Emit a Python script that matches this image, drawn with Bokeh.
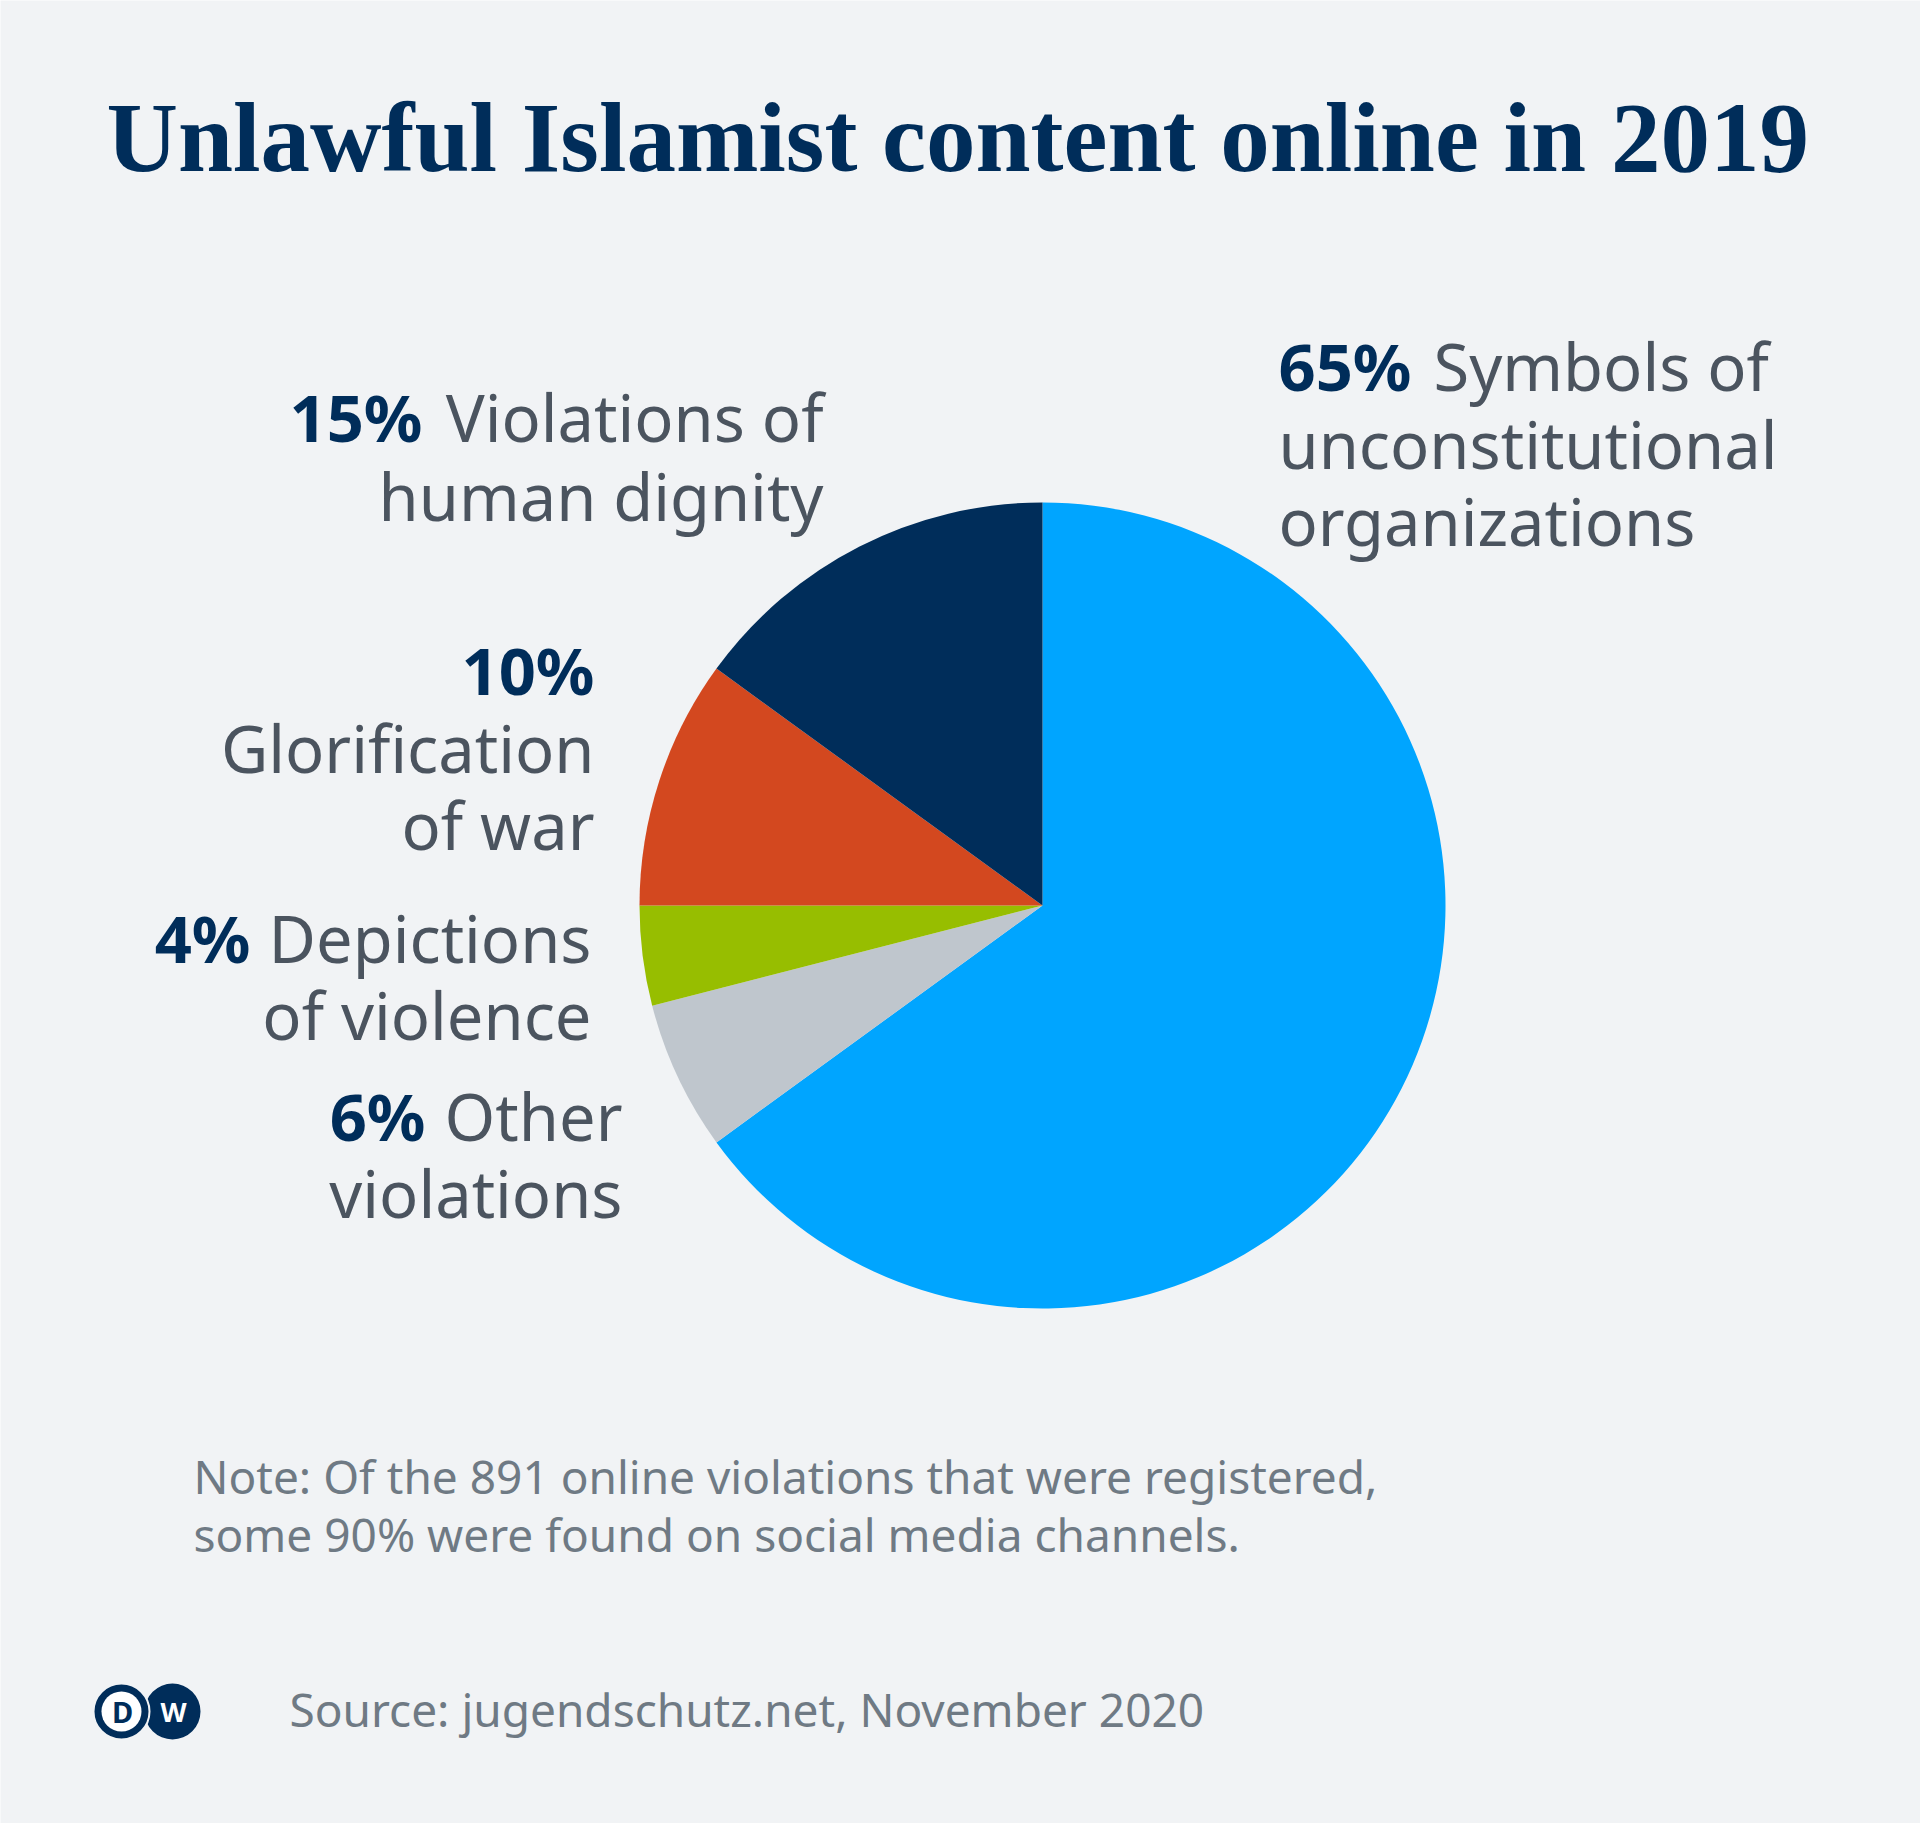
import math
from bokeh.plotting import figure
from bokeh.embed import file_html
from bokeh.resources import INLINE
from bokeh.core.properties import value

# ---- data ----
categories = ["Symbols of unconstitutional organizations", "Other violations",
              "Depictions of violence", "Glorification of war",
              "Violations of human dignity"]
shares = [65, 6, 4, 10, 15]
colors = ["#00A5FF", "#BFC6CD", "#97BE00", "#D3481F", "#002D5A"]

title = "Unlawful Islamist content online in 2019"
note_lines = ["Note: Of the 891 online violations that were registered,",
              "some 90% were found on social media channels."]
source = "Source: jugendschutz.net, November 2020"

W, H = 1920, 1823
BG = "#F1F3F5"
NAVY = "#002D5A"
LABEL = "#4B545F"
GREY = "#6F7A84"
SANS = "Noto Sans"


def Y(py):
    return H - py


p = figure(width=W, height=H, x_range=(0, W), y_range=(0, H),
           output_backend="svg", toolbar_location=None,
           x_axis_location=None, y_axis_location=None, min_border=0,
           background_fill_color=BG, border_fill_color=BG, outline_line_color=None)
p.xgrid.visible = False
p.ygrid.visible = False

# ---- pie ----
cx, cy, r = 1042, 905, 403
total = sum(shares)
start = math.pi / 2
starts, ends = [], []
for s in shares:
    a = 2 * math.pi * s / total
    starts.append(start)
    ends.append(start - a)
    start -= a
p.wedge(x=[cx] * len(shares), y=[Y(cy)] * len(shares), radius=r,
        start_angle=starts, end_angle=ends, direction="clock",
        fill_color=colors, line_color=None)

# ---- title ----
p.text(x=[106], y=[Y(137)], text=[title], text_font=value("Liberation Serif"),
       text_font_style="bold", text_font_size="99px", text_color=NAVY,
       text_baseline="alphabetic", text_align="left")

OFF = {65: 27, 46: 19}


def txt(x, y, s, bold=False, align="left", color=None, size=65):
    yy = int(round(y - OFF[size]))
    p.text(x=[x], y=[Y(yy)], text=[s], text_font=value(SANS),
           text_font_style="bold" if bold else "normal", text_font_size=f"{size}px",
           text_color=color or (NAVY if bold else LABEL),
           text_baseline="alphabetic", text_align=align)


# 65% label
txt(1278, 392, f"{shares[0]}%", bold=True)
txt(1433, 392, "Symbols of")
txt(1278, 470, "unconstitutional")
txt(1278, 547, "organizations")

# 15% label
txt(422, 443, f"{shares[4]}%", bold=True, align="right")
txt(823, 443, "Violations of", align="right")
txt(823, 522, "human dignity", align="right")

# 10% label
txt(594, 696, f"{shares[3]}%", bold=True, align="right")
txt(594, 774, "Glorification", align="right")
txt(594, 851, "of war", align="right")

# 4% label
txt(250, 964, f"{shares[2]}%", bold=True, align="right")
txt(591, 964, "Depictions", align="right")
txt(591, 1041, "of violence", align="right")

# 6% label
txt(425, 1142, f"{shares[1]}%", bold=True, align="right")
txt(622, 1142, "Other", align="right")
txt(622, 1219, "violations", align="right")

# ---- note ----
txt(193, 1494, note_lines[0], color=GREY, size=46)
txt(193, 1552, note_lines[1], color=GREY, size=46)

# ---- source ----
txt(289, 1727, source, color=GREY, size=46)

# ---- DW logo ----
LY = 1711
p.circle(x=[172], y=[Y(LY)], radius=28, fill_color=NAVY, line_color=None)
p.circle(x=[121], y=[Y(LY)], radius=28, fill_color=NAVY, line_color=BG, line_width=2)
p.circle(x=[121], y=[Y(LY)], radius=20, fill_color="white", line_color=None)
p.text(x=[122], y=[Y(LY)], text=["D"], text_font=value(SANS), text_font_style="bold",
       text_font_size="29px", text_color=NAVY, text_align="center", text_baseline="middle")
p.text(x=[173], y=[Y(LY)], text=["W"], text_font=value(SANS), text_font_style="bold",
       text_font_size="27px", text_color="white", text_align="center", text_baseline="middle")

open("out.html", "w").write(file_html(p, INLINE))
